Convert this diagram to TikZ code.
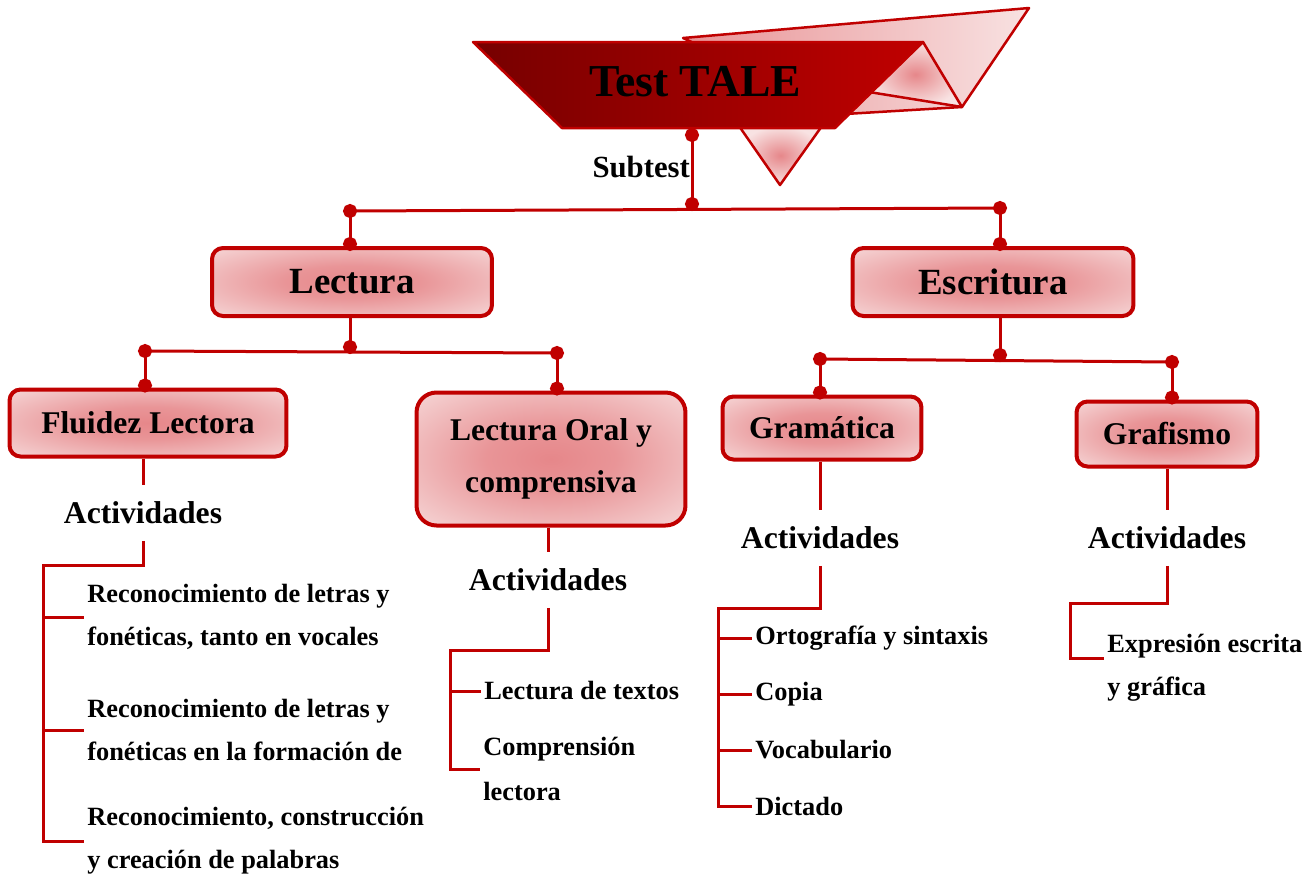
\documentclass[tikz,border=0pt]{standalone}
\usepackage{fontspec}
\setmainfont{Liberation Serif}
\usetikzlibrary{arrows.meta}
\definecolor{talered}{HTML}{C00000}
\definecolor{taledark}{HTML}{760000}
\definecolor{talepink}{HTML}{E6878A}
\definecolor{talepale}{HTML}{F8E2E2}
\pgfdeclareradialshading{boxglow}{\pgfpoint{0bp}{0bp}}{%
    color(0bp)=(talepink); color(12bp)=(talepink!85!talepale);
    color(40bp)=(talepale); color(50bp)=(talepale)}
\begin{document}
\begin{tikzpicture}[x=0.02cm, y=-0.02cm,
    conn/.style={draw=talered, line width=0.06cm},
    dots/.style={{Circle[length=8pt]}-{Circle[length=8pt]},
        shorten <=-0.14cm, shorten >=-0.14cm},
    enddot/.style={-{Circle[length=8pt]}, shorten >=-0.14cm},
    topdot/.style={-{Circle[length=8pt]}, shorten >=-0.1cm},
    fold/.style={draw=talered, line width=0.05cm, line join=round},
    box/.style={draw=talered, line width=0.08cm, rounded corners=0.22cm,
        shading=boxglow, align=center,
        font=\fontsize{18}{22}\selectfont\bfseries},
    act/.style={font=\fontsize{18}{22}\selectfont\bfseries,
        minimum height=1.1cm, inner sep=0pt},
    item/.style={anchor=west, align=left, inner xsep=0.06cm, inner ysep=0pt,
        font=\fontsize{15}{24.5}\selectfont\bfseries}]

    \useasboundingbox (0,0) rectangle (1315,877);

    % Title banner
    \draw[fold, left color=talepink!90, right color=talepale]
        (683,38) -- (1029,8) -- (962,107) -- (845,114) -- cycle;
    \draw[fold, inner color=talepink, outer color=talepale]
        (923,42) -- (962,107) -- (869,92) -- cycle;
    \draw[fold, inner color=talepink, outer color=talepale]
        (739,126) -- (822,126) -- (780,185) -- cycle;
    \draw[fold, left color=taledark, right color=talered]
        (473,42) -- (923,42) -- (835,128) -- (562,128) -- cycle;
    \node[font=\fontsize{26}{30}\selectfont\bfseries] (title) at (695,82) {Test TALE};

    % Junction points
    \coordinate (tbot) at (692,135);
    \coordinate (j0) at (692,204);
    \coordinate (jL) at (350,211);
    \coordinate (jR) at (1000,208);
    \coordinate (j1) at (350,347);
    \coordinate (jLL) at (145,351);
    \coordinate (jLR) at (557,353);
    \coordinate (j2) at (1000,355);
    \coordinate (jRL) at (820,359);
    \coordinate (jRR) at (1172,362);

    % Boxes
    \node[box, minimum width=5.6cm, minimum height=1.36cm,
        font=\fontsize{21}{25}\selectfont\bfseries] (lectura) at (352,282) {Lectura};
    \node[box, minimum width=5.62cm, minimum height=1.36cm,
        font=\fontsize{21}{25}\selectfont\bfseries] (escritura) at (993,282) {Escritura};
    \node[box, minimum width=5.54cm, minimum height=1.34cm] (fluidez) at (148,423) {Fluidez Lectora};
    \node[box, minimum width=5.38cm, minimum height=2.66cm, rounded corners=0.4cm,
        font=\fontsize{18}{29.5}\selectfont\bfseries] (oral) at (551,459) {Lectura Oral y\\comprensiva};
    \node[box, minimum width=3.98cm, minimum height=1.26cm] (gramatica) at (822,428) {Gramática};
    \node[box, minimum width=3.62cm, minimum height=1.3cm] (grafismo) at (1167,434) {Grafismo};

    % Subtest
    \node[anchor=east, inner sep=1pt, font=\fontsize{17.5}{20}\selectfont\bfseries]
        (subtest) at (692,167) {Subtest};
    \draw[conn, dots] (tbot) -- (j0);
    \draw[conn, dots] (jL) -- (jR);
    \draw[conn, topdot] (jL) -- (jL |- lectura.north);
    \draw[conn, topdot] (jR) -- (jR |- escritura.north);

    % Lectura branch
    \draw[conn, enddot] (lectura.south -| j1) -- (j1);
    \draw[conn, dots] (jLL) -- (jLR);
    \draw[conn, topdot] (jLL) -- (jLL |- fluidez.north);
    \draw[conn, topdot] (jLR) -- (jLR |- oral.north);

    % Escritura branch
    \draw[conn, enddot] (escritura.south -| j2) -- (j2);
    \draw[conn, dots] (jRL) -- (jRR);
    \draw[conn, topdot] (jRL) -- (jRL |- gramatica.north);
    \draw[conn, topdot] (jRR) -- (jRR |- grafismo.north);

    % Actividades
    \node[act] (actF) at (143,513) {Actividades};
    \node[act] (actO) at (548,580) {Actividades};
    \node[act] (actG) at (820,538) {Actividades};
    \node[act] (actE) at (1167,538) {Actividades};
    \draw[conn] (fluidez.south -| actF.north) -- (actF.north);
    \draw[conn] (oral.south -| actO.north) -- (actO.north);
    \draw[conn] (gramatica.south -| actG.north) -- (actG.north);
    \draw[conn] (grafismo.south -| actE.north) -- (actE.north);

    % Fluidez Lectora items
    \coordinate (fl-top) at (43,565);
    \node[item] (fi1) at (84,617) {Reconocimiento de letras y\\fonéticas, tanto en vocales};
    \node[item] (fi2) at (84,730) {Reconocimiento de letras y\\fonéticas en la formación de};
    \node[item] (fi3) at (84,841) {Reconocimiento, construcción\\y creación de palabras};
    \draw[conn] (actF.south) |- (fl-top) |- (fi3.west);
    \draw[conn] (fl-top) |- (fi1.west);
    \draw[conn] (fl-top) |- (fi2.west);

    % Lectura Oral items
    \coordinate (lo-top) at (450,650);
    \node[item] (lo1) at (481,691) {Lectura de textos};
    \node[item, font=\fontsize{15}{25.5}\selectfont\bfseries] (lo2) at (480,769) {Comprensión\\lectora};
    \draw[conn] (actO.south) |- (lo-top) |- (lo2.west);
    \draw[conn] (lo-top) |- (lo1.west);

    % Gramatica items
    \coordinate (gr-top) at (718,608);
    \foreach \txt [count=\i] in {Ortografía y sintaxis, Copia, Vocabulario, Dictado}
        \node[item] (gi\i) at (752,582+56*\i) {\txt};
    \draw[conn] (actG.south) |- (gr-top) |- (gi4.west);
    \foreach \i in {1,...,3}
        \draw[conn] (gr-top) |- (gi\i.west);

    % Grafismo items
    \coordinate (gf-top) at (1070,603);
    \node[item] (ge1) at (1104,668) {Expresión escrita\\y gráfica};
    \draw[conn] (actE.south) |- (gf-top) |- ([yshift=0.2cm]ge1.west);
\end{tikzpicture}
\end{document}
